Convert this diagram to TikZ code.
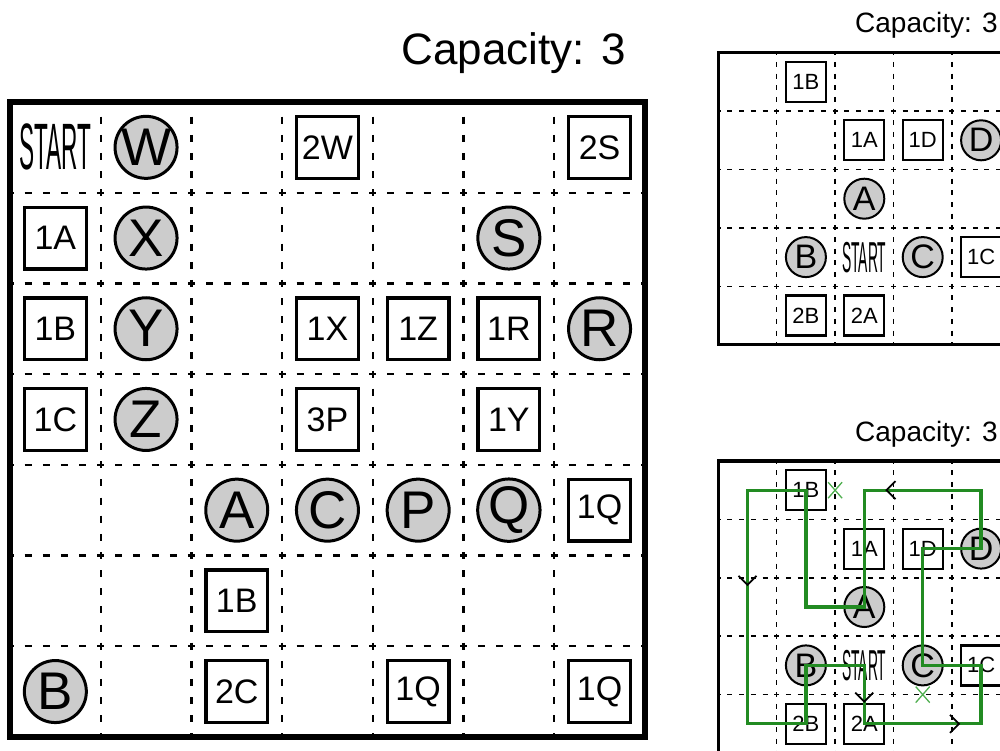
\documentclass[tikz,border=0pt]{standalone}
\usepackage{fontspec}
\setmainfont{Liberation Sans}
\definecolor{cfill}{RGB}{204,204,204}
\definecolor{gline}{RGB}{34,139,34}
\definecolor{gx}{RGB}{80,175,80}
\begin{document}
\begin{tikzpicture}[x=1pt,y=-1pt,
  mdash/.style={line width=2.2pt, dash pattern=on 7pt off 11.14pt, dash phase=3.5pt},
  sdash/.style={line width=1.5pt, dash pattern=on 5pt off 6.68pt, dash phase=2.5pt},
  mborder/.style={line width=5.5pt},
  sborder/.style={line width=3.5pt},
  sqm/.style={draw, fill=white, line width=3.3pt, minimum size=61.7pt, inner sep=0pt, font=\fontsize{34}{34}\selectfont},
  cim/.style={circle, draw, fill=cfill, line width=3pt, minimum size=62pt, inner sep=0pt, font=\fontsize{53}{53}\selectfont},
  sqs/.style={draw, fill=white, line width=2.2pt, minimum size=40pt, inner sep=0pt, font=\fontsize{22}{22}\selectfont},
  cis/.style={circle, draw, fill=cfill, line width=2pt, minimum size=40pt, inner sep=0pt, font=\fontsize{34}{34}\selectfont},
  startm/.style={inner sep=0pt, font=\fontsize{65.6}{65.6}\selectfont},
  starts/.style={inner sep=0pt, font=\fontsize{43.3}{43.3}\selectfont},
  capm/.style={anchor=base east, inner sep=0pt, font=\fontsize{44}{44}\selectfont},
  caps/.style={anchor=base east, inner sep=0pt, font=\fontsize{28}{28}\selectfont},
  gpath/.style={draw=gline, line width=3.3pt},
  gcross/.style={draw=gx, line width=1.3pt},
  chev/.pic={\draw[black, line width=1.8pt] (-2,9) -- (7,0) -- (-2,-9);}
]
\useasboundingbox (0,0) rectangle (1000,751);
\clip (0,0) rectangle (1000,751);
% cell centre coordinates
\foreach \ci in {0,...,6}{\foreach \ri in {0,...,6}{
  \coordinate (M\ci\ri) at ({10+90.7*(\ci+0.5)},{102+90.7*(\ri+0.5)});}}
\foreach \ci in {0,...,4}{\foreach \ri in {0,...,4}{
  \coordinate (T\ci\ri) at ({718.3+58.4*(\ci+0.5)},{52.7+58.4*(\ri+0.5)});
  \coordinate (B\ci\ri) at ({718.3+58.4*(\ci+0.5)},{461+58.4*(\ri+0.5)});}}
% main grid
\foreach \i in {1,...,6}{
  \draw[mdash] ({10+90.7*\i},102) -- ({10+90.7*\i},737);
  \draw[mdash] (10,{102+90.7*\i}) -- (645,{102+90.7*\i});}
\draw[mborder] (10,102) rectangle (645,737);
% small grids
\foreach \i in {1,...,4}{
  \draw[sdash] ({718.3+58.4*\i},52.7) -- ({718.3+58.4*\i},344.7);
  \draw[sdash] (718.3,{52.7+58.4*\i}) -- (1010.3,{52.7+58.4*\i});
  \draw[sdash] ({718.3+58.4*\i},461) -- ({718.3+58.4*\i},753);
  \draw[sdash] (718.3,{461+58.4*\i}) -- (1010.3,{461+58.4*\i});}
\draw[sborder] (718.3,52.7) rectangle (1010.3,344.7);
\draw[sborder] (718.3,461) rectangle (1010.3,753);
% titles
\node[capm] (capMain) at (626,65) {Capacity: 3};
\node[caps] (capTop) at (998,33) {Capacity: 3};
\node[caps] (capBot) at (998,441) {Capacity: 3};
% main grid contents
\node[startm] (mSTART) at (M00) {\scalebox{0.345}[1]{START}};
\node[cim] (mW) at (M10) {W};
\node[sqm] (m2W) at (M30) {2W};
\node[sqm] (m2S) at (M60) {2S};
\node[sqm] (m1A) at (M01) {1A};
\node[cim] (mX) at (M11) {X};
\node[cim] (mS) at (M51) {S};
\node[sqm] (m1B) at (M02) {1B};
\node[cim] (mY) at (M12) {Y};
\node[sqm] (m1X) at (M32) {1X};
\node[sqm] (m1Z) at (M42) {1Z};
\node[sqm] (m1R) at (M52) {1R};
\node[cim] (mR) at (M62) {R};
\node[sqm] (m1C) at (M03) {1C};
\node[cim] (mZ) at (M13) {Z};
\node[sqm] (m3P) at (M33) {3P};
\node[sqm] (m1Y) at (M53) {1Y};
\node[cim] (mA) at (M24) {A};
\node[cim] (mC) at (M34) {C};
\node[cim] (mP) at (M44) {P};
\node[cim] (mQ) at (M54) {Q};
\node[sqm] (m1Qa) at (M64) {1Q};
\node[sqm] (m1Bb) at (M25) {1B};
\node[cim] (mB) at (M06) {B};
\node[sqm] (m2C) at (M26) {2C};
\node[sqm] (m1Qb) at (M46) {1Q};
\node[sqm] (m1Qc) at (M66) {1Q};
% top small grid
\node[sqs] (t1B) at (T10) {1B};
\node[sqs] (t1A) at (T21) {1A};
\node[sqs] (t1D) at (T31) {1D};
\node[cis] (tD) at (T41) {D};
\node[cis] (tA) at (T22) {A};
\node[cis] (tB) at (T13) {B};
\node[starts] (tSTART) at (T23) {\scalebox{0.32}[1]{START}};
\node[cis] (tC) at (T33) {C};
\node[sqs] (t1C) at (T43) {1C};
\node[sqs] (t2B) at (T14) {2B};
\node[sqs] (t2A) at (T24) {2A};
% bottom small grid
\node[sqs] (b1B) at (B10) {1B};
\node[sqs] (b1A) at (B21) {1A};
\node[sqs] (b1D) at (B31) {1D};
\node[cis] (bD) at (B41) {D};
\node[cis] (bA) at (B22) {A};
\node[cis] (bB) at (B13) {B};
\node[starts] (bSTART) at (B23) {\scalebox{0.32}[1]{START}};
\node[cis] (bC) at (B33) {C};
\node[sqs] (b1C) at (B43) {1C};
\node[sqs] (b2B) at (B14) {2B};
\node[sqs] (b2A) at (B24) {2A};
% solution loop
\draw[gpath] (bSTART.center) -- (b2A.center) -| (b1C.center) -- (bC.center)
  -- (b1D.center) -- (bD.center) -- (B40) -| (bA.center) -| (b1B.center)
  -- (B00) |- (b2B.center) -- (bB.center) -- cycle;
% crosses
\coordinate (xa) at (835.1,490.2);
\coordinate (xb) at (922.7,694.6);
\draw[gcross] (xa) +(-7,-8) -- +(7,8) (xa) +(-7,8) -- +(7,-8);
\draw[gcross] (xb) +(-7,-8) -- +(7,8) (xb) +(-7,8) -- +(7,-8);
% direction chevrons
\pic[rotate=180] at (893.5,490.2) {chev};
\pic[rotate=-90] at (747.5,577.8) {chev};
\pic[rotate=-90] at (864.3,694.6) {chev};
\pic at (952,723.8) {chev};
\end{tikzpicture}
\end{document}
